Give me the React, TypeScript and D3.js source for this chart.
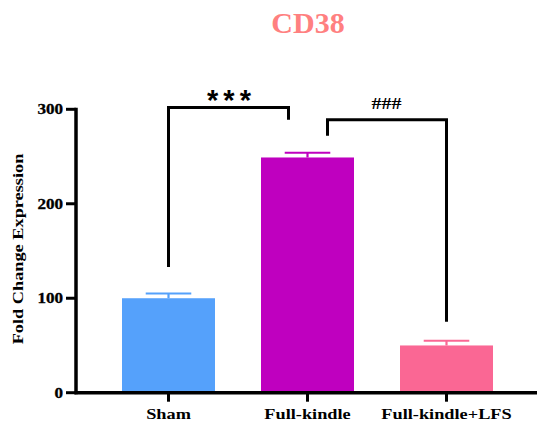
import React from 'react';
import * as d3 from 'd3';

const categories = ['Sham', 'Full-kindle', 'Full-kindle+LFS'];
const means = [100, 249, 50];
const errors = [5, 5, 5];
const barColors = ['#55a1fb', '#bf00bf', '#fa6794'];
const yTicks = [0, 100, 200, 300];

// significance brackets: [leftLegBottom, top, rightLegBottom] in data units
const sigLabels = ['***', '###'];
const sigFrom = [0, 1];
const sigTo = [1, 2];
const sigLevels = [
  [133, 302, 289],
  [272, 289, 75],
];

const W = 537;
const H = 421;

const App = () => {
  const x = d3.scaleBand<string>()
    .domain(categories)
    .range([76, 539])
    .padding(0.331);
  const y = d3.scaleLinear().domain([0, 300]).range([392.7, 109.3]);

  const bw = x.bandwidth();
  const cx = (i: number) => (x(categories[i]) as number) + bw / 2;
  const capHalf = bw * 0.245;
  const sx = 1.22;

  // bracket legs sit just off the centre of the middle bar
  const bracketX = (k: number) => {
    const a = cx(sigFrom[k]);
    const b = cx(sigTo[k]);
    return k === 0 ? [a, b - 19] : [a + 20, b];
  };

  return (
    <svg
      width={W}
      height={H}
      style={{ position: 'absolute', left: 0, top: 0, background: '#fff' }}
      fontFamily="'Liberation Serif', 'Times New Roman', serif"
      fontWeight="bold"
    >
      <text x={308} y={33} textAnchor="middle" fontSize={30} fill="#ff8080">CD38</text>

      {/* bars */}
      {means.map((m, i) => (
        <rect
          key={categories[i]}
          x={x(categories[i])}
          y={y(m)}
          width={bw}
          height={y(0) - y(m)}
          fill={barColors[i]}
        />
      ))}

      {/* error bars */}
      {means.map((m, i) => (
        <g key={'e' + i} stroke={barColors[i]} strokeWidth={2.2}>
          <line x1={cx(i)} x2={cx(i)} y1={y(m)} y2={y(m + errors[i])} />
          <line x1={cx(i) - capHalf} x2={cx(i) + capHalf} y1={y(m + errors[i])} y2={y(m + errors[i])} />
        </g>
      ))}

      {/* y axis */}
      <line x1={76} x2={76} y1={y(300) - 1.5} y2={y(0) + 1.5} stroke="#000" strokeWidth={3.5} />
      {yTicks.map(t => (
        <g key={t}>
          <line x1={66} x2={76} y1={y(t)} y2={y(t)} stroke="#000" strokeWidth={3} />
          <text
            transform={`translate(63,${y(t) + 4.8}) scale(${sx},1)`}
            textAnchor="end"
            fontSize={14}
            fill="#000"
            stroke="#000"
            strokeWidth={0.3}
          >{t}</text>
        </g>
      ))}

      {/* x axis */}
      <line x1={74.5} x2={W} y1={y(0)} y2={y(0)} stroke="#000" strokeWidth={3.5} />
      {categories.map((c, i) => (
        <g key={c}>
          <line x1={cx(i)} x2={cx(i)} y1={y(0)} y2={y(0) + 9} stroke="#000" strokeWidth={3} />
          <text
            transform={`translate(${cx(i)},418.5) scale(${sx},1)`}
            textAnchor="middle"
            fontSize={15}
            fill="#000"
          >{c}</text>
        </g>
      ))}

      <text
        transform={`translate(23,249) rotate(-90) scale(${sx},1)`}
        textAnchor="middle"
        fontSize={15}
        fill="#000"
      >Fold Change Expression</text>

      {/* significance brackets */}
      {sigLabels.map((lab, k) => {
        const [x1, x2] = bracketX(k);
        const [l, top, r] = sigLevels[k];
        const path = d3.path();
        path.moveTo(x1, y(l));
        path.lineTo(x1, y(top));
        path.lineTo(x2, y(top));
        path.lineTo(x2, y(r));
        const mid = (x1 + x2) / 2;
        return (
          <g key={lab}>
            <path d={path.toString()} fill="none" stroke="#000" strokeWidth={3} />
            {k === 0 ? (
              <text
                x={mid + 3}
                y={y(top) + 3}
                textAnchor="middle"
                fontSize={29}
                letterSpacing={5}
                fontFamily="'Liberation Sans', Arial, sans-serif"
                fill="#000"
              >{lab}</text>
            ) : (
              <text
                transform={`translate(${mid - 0.5},${y(top) - 10.5}) scale(1.25,1)`}
                textAnchor="middle"
                fontSize={16}
                fill="#000"
              >{lab}</text>
            )}
          </g>
        );
      })}
    </svg>
  );
};

export default App;
